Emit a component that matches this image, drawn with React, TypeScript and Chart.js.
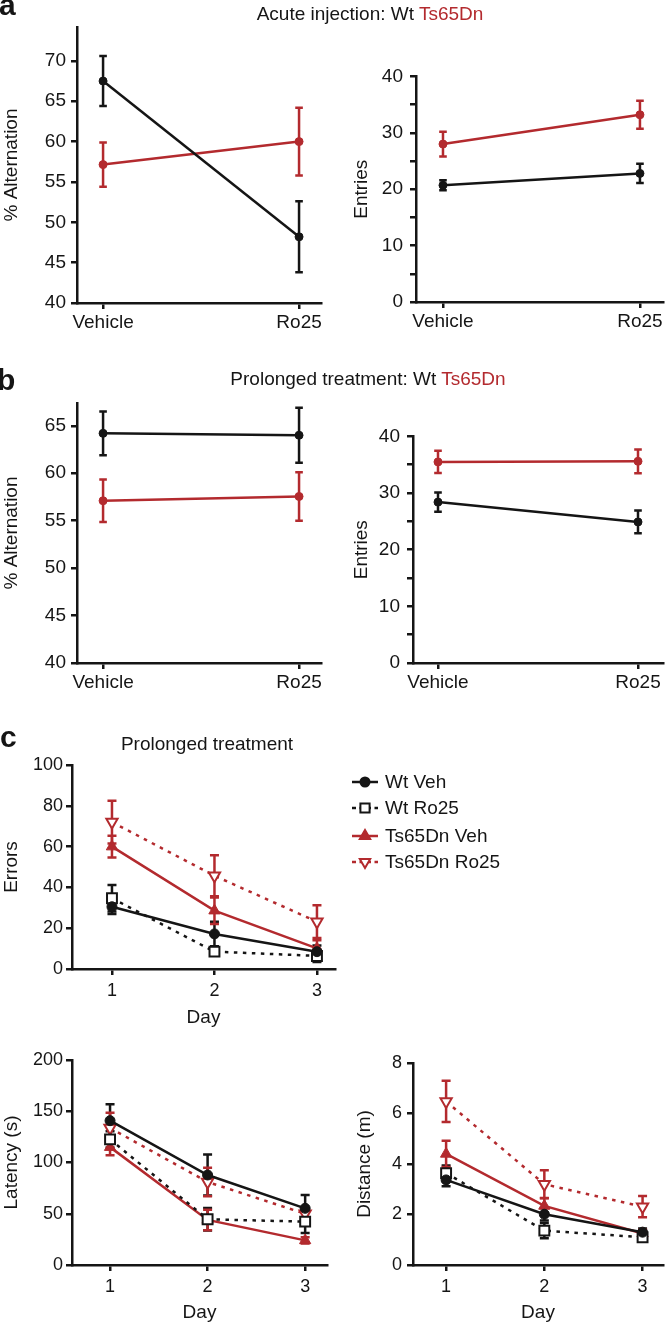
import React, { useEffect, useRef } from 'react';
import { Chart, registerables } from 'chart.js';

Chart.register(...registerables);

const FONT = '"Liberation Sans", Arial, Helvetica, sans-serif';
const INK = '#151515';
const RED = '#b32a2e';

// ---------- data ----------
const treatments = ['Vehicle', 'Ro25'];
const treatmentX = [0, 1];
const days = [1, 2, 3];
const dayLabels = ['1', '2', '3'];

// a: acute injection
const acuteAltWt = [67.5, 48.2];
const acuteAltWtErr = [3.1, 4.4];
const acuteAltTs = [57.15, 60.0];
const acuteAltTsErr = [2.75, 4.2];
const acuteEntWt = [20.7, 22.8];
const acuteEntWtErr = [0.9, 1.7];
const acuteEntTs = [28.0, 33.2];
const acuteEntTsErr = [2.2, 2.5];

// b: prolonged treatment
const prolAltWt = [64.2, 64.0];
const prolAltWtErr = [2.3, 2.9];
const prolAltTs = [57.1, 57.55];
const prolAltTsErr = [2.25, 2.55];
const prolEntWt = [28.4, 24.9];
const prolEntWtErr = [1.7, 2.0];
const prolEntTs = [35.5, 35.6];
const prolEntTsErr = [1.95, 2.1];

// c: prolonged treatment, water maze
const errWtVeh = [30.5, 17.2, 8.5];
const errWtVehErr = [3.5, 6, 3];
const errWtRo = [34.7, 8.5, 6.4];
const errWtRoErr = [6.5, 2, 3];
const errTsVeh = [60, 28.6, 10.1];
const errTsVehErr = [5.3, 6.5, 4];
const errTsRo = [72, 45.7, 23.2];
const errTsRoErr = [10.5, 10, 8];

const latWtVeh = [140.8, 87.8, 55.3];
const latWtVehErr = [16, 20, 13];
const latWtRo = [122.6, 44.6, 42.3];
const latWtRoErr = [8, 11, 11];
const latTsVeh = [115, 44, 24];
const latTsVehErr = [8, 10, 3];
const latTsRo = [133.6, 81, 50];
const latTsRoErr = [15, 14, 5];

const distWtVeh = [3.37, 2.01, 1.3];
const distWtVehErr = [0.25, 0.25, 0.15];
const distWtRo = [3.64, 1.36, 1.1];
const distWtRoErr = [0.3, 0.3, 0.15];
const distTsVeh = [4.4, 2.34, 1.25];
const distTsVehErr = [0.52, 0.3, 0.15];
const distTsRo = [6.48, 3.2, 2.31];
const distTsRoErr = [0.82, 0.55, 0.42];

const altTicksA = [40, 45, 50, 55, 60, 65, 70];
const altTicksB = [40, 45, 50, 55, 60, 65];
const entTicks = [0, 5, 10, 15, 20, 25, 30, 35, 40];
const errTicks = [0, 20, 40, 60, 80, 100];
const latTicks = [0, 50, 100, 150, 200];
const distTicks = [0, 2, 4, 6, 8];

const legendLabels = ['Wt Veh', 'Wt Ro25', 'Ts65Dn Veh', 'Ts65Dn Ro25'];

// ---------- series styles ----------
const wtAB = (values, errors) => ({ label: 'Wt', values, errors, color: INK, point: 'circle', radius: 4, open: false, dashed: false });
const tsAB = (values, errors) => ({ label: 'Ts65Dn', values, errors, color: RED, point: 'circle', radius: 4, open: false, dashed: false });

const styleWtVeh = { color: INK, point: 'circle', radius: 5, open: false, dashed: false };
const styleWtRo = { color: INK, point: 'rect', radius: 7, open: true, dashed: true };
const styleTsVeh = { color: RED, point: 'triangle', radius: 6.5, open: false, dashed: false };
const styleTsRo = { color: RED, point: 'triangleDown', radius: 6.5, open: true, dashed: true };
const cStyles = [styleWtVeh, styleWtRo, styleTsVeh, styleTsRo];

const cSeries = (vals, errs) =>
  cStyles.map((st, i) => ({ ...st, label: legendLabels[i], values: vals[i], errors: errs[i] }));

// ---------- plugins ----------
function makeErrorBars(series, cap) {
  return {
    id: 'errorBars',
    beforeDatasetsDraw(chart) {
      const ctx = chart.ctx;
      const xs = chart.scales.x;
      const ys = chart.scales.y;
      series.forEach((s, si) => {
        const meta = chart.getDatasetMeta(si);
        ctx.save();
        ctx.strokeStyle = s.color;
        ctx.lineWidth = 2.5;
        ctx.setLineDash([]);
        meta.data.forEach((pt, j) => {
          const v = s.values[j];
          const e = s.errors[j];
          const px = xs.getPixelForValue(chart.data.datasets[si].data[j].x);
          const top = ys.getPixelForValue(v + e);
          const bot = ys.getPixelForValue(v - e);
          ctx.beginPath();
          ctx.moveTo(px, top);
          ctx.lineTo(px, bot);
          ctx.moveTo(px - cap, top);
          ctx.lineTo(px + cap, top);
          ctx.moveTo(px - cap, bot);
          ctx.lineTo(px + cap, bot);
          ctx.stroke();
        });
        ctx.restore();
      });
    },
  };
}

function drawMarker(ctx, style, x, y, r, color, open) {
  ctx.save();
  ctx.setLineDash([]);
  ctx.fillStyle = open ? '#ffffff' : color;
  ctx.strokeStyle = color;
  ctx.lineWidth = 2;
  ctx.beginPath();
  if (style === 'circle') {
    ctx.arc(x, y, r, 0, Math.PI * 2);
  } else if (style === 'rect') {
    const h = r * Math.SQRT1_2;
    ctx.rect(x - h, y - h, 2 * h, 2 * h);
  } else {
    const dir = style === 'triangleDown' ? -1 : 1;
    ctx.moveTo(x, y - dir * r);
    ctx.lineTo(x + r * 0.866, y + dir * r * 0.5);
    ctx.lineTo(x - r * 0.866, y + dir * r * 0.5);
    ctx.closePath();
  }
  ctx.fill();
  ctx.stroke();
  ctx.restore();
}

function makeLegend(cx, cy) {
  const rows = [782, 808, 836, 862];
  return {
    id: 'customLegend',
    afterDraw(chart) {
      const ctx = chart.ctx;
      cStyles.forEach((st, i) => {
        const y = rows[i] - cy;
        const x1 = 352 - cx;
        const x2 = 378 - cx;
        const xm = 365 - cx;
        ctx.save();
        ctx.strokeStyle = st.color;
        ctx.lineWidth = 2.5;
        ctx.setLineDash(st.dashed ? [4, 3.5] : []);
        ctx.beginPath();
        ctx.moveTo(x1, y);
        ctx.lineTo(x2, y);
        ctx.stroke();
        ctx.restore();
        drawMarker(ctx, st.point, xm, y, st.point === 'rect' ? 6.5 : st.point === 'circle' ? 4.5 : 6, st.color, st.open);
        ctx.save();
        ctx.fillStyle = INK;
        ctx.font = `19px ${FONT}`;
        ctx.textBaseline = 'middle';
        ctx.textAlign = 'left';
        ctx.fillText(legendLabels[i], 385 - cx, y + 1);
        ctx.restore();
      });
    },
  };
}

// ---------- panel specs ----------
const panels = [
  {
    key: 'aL', cx: 0, cy: 10, cw: 336, ch: 340, L: 77, T: 27, R: 321, B: 303,
    xs: treatmentX, xLabels: treatments, xMin: -0.133, xMax: 1.112,
    yMin: 40, yMax: 74.2, yTicks: altTicksA, yLabelStep: 5,
    yTitle: '% Alternation', yTitleX: 12, yPad: 5, xPad: 2, tickFont: 19, cap: 3.8,
    series: [wtAB(acuteAltWt, acuteAltWtErr), tsAB(acuteAltTs, acuteAltTsErr)],
  },
  {
    key: 'aR', cx: 336, cy: 58, cw: 336, ch: 292, L: 416, T: 75, R: 663, B: 302,
    xs: treatmentX, xLabels: treatments, xMin: -0.137, xMax: 1.117,
    yMin: 0, yMax: 40, yTicks: entTicks, yLabelStep: 10,
    yTitle: 'Entries', yTitleX: 362, yPad: 7, xPad: 2, tickFont: 19, cap: 3.8,
    series: [wtAB(acuteEntWt, acuteEntWtErr), tsAB(acuteEntTs, acuteEntTsErr)],
  },
  {
    key: 'bL', cx: 0, cy: 385, cw: 336, ch: 330, L: 77, T: 403, R: 321, B: 663,
    xs: treatmentX, xLabels: treatments, xMin: -0.133, xMax: 1.112,
    yMin: 40, yMax: 67.4, yTicks: altTicksB, yLabelStep: 5,
    yTitle: '% Alternation', yTitleX: 12, yPad: 5, xPad: 2, tickFont: 19, cap: 3.8,
    series: [wtAB(prolAltWt, prolAltWtErr), tsAB(prolAltTs, prolAltTsErr)],
  },
  {
    key: 'bR', cx: 336, cy: 418, cw: 336, ch: 297, L: 413, T: 436, R: 663, B: 663,
    xs: treatmentX, xLabels: treatments, xMin: -0.125, xMax: 1.125,
    yMin: 0, yMax: 40, yTicks: entTicks, yLabelStep: 10,
    yTitle: 'Entries', yTitleX: 362, yPad: 7, xPad: 2, tickFont: 19, cap: 3.8,
    series: [wtAB(prolEntWt, prolEntWtErr), tsAB(prolEntTs, prolEntTsErr)],
  },
  {
    key: 'cE', cx: 0, cy: 748, cw: 672, ch: 282, L: 72, T: 765, R: 335, B: 969,
    xs: days, xLabels: dayLabels, xMin: 0.61, xMax: 3.176,
    yMin: 0, yMax: 100, yTicks: errTicks, yLabelStep: 0,
    yTitle: 'Errors', yTitleX: 12, yPad: 3, xPad: 5, tickFont: 18, cap: 4.5,
    xTitle: 'Day', xTitlePad: 0.6, legend: true,
    series: cSeries([errWtVeh, errWtRo, errTsVeh, errTsRo], [errWtVehErr, errWtRoErr, errTsVehErr, errTsRoErr]),
  },
  {
    key: 'cL', cx: 0, cy: 1043, cw: 336, ch: 282, L: 72, T: 1060, R: 340, B: 1265,
    xs: days, xLabels: dayLabels, xMin: 0.61, xMax: 3.224,
    yMin: 0, yMax: 200, yTicks: latTicks, yLabelStep: 0,
    yTitle: 'Latency (s)', yTitleX: 12, yPad: 3, xPad: 5, tickFont: 18, cap: 4.5,
    xTitle: 'Day', xTitlePad: 0.6,
    series: cSeries([latWtVeh, latWtRo, latTsVeh, latTsRo], [latWtVehErr, latWtRoErr, latTsVehErr, latTsRoErr]),
  },
  {
    key: 'cD', cx: 336, cy: 1046, cw: 336, ch: 279, L: 413, T: 1063, R: 670, B: 1265,
    xs: days, xLabels: dayLabels, xMin: 0.663, xMax: 3.208,
    yMin: 0, yMax: 8, yTicks: distTicks, yLabelStep: 0,
    yTitle: 'Distance (m)', yTitleX: 365, yPad: 5, xPad: 5, tickFont: 18, cap: 4.5,
    xTitle: 'Day', xTitlePad: 1,
    series: cSeries([distWtVeh, distWtRo, distTsVeh, distTsRo], [distWtVehErr, distWtRoErr, distTsVehErr, distTsRoErr]),
  },
];

function buildConfig(p) {
  const datasets = p.series.map((s) => ({
    label: s.label,
    data: p.xs.map((x, i) => ({ x, y: s.values[i] })),
    borderColor: s.color,
    backgroundColor: s.open ? '#ffffff' : s.color,
    pointBackgroundColor: s.open ? '#ffffff' : s.color,
    pointBorderColor: s.color,
    pointBorderWidth: s.open ? 2 : 1,
    pointRadius: s.radius,
    pointStyle: s.point === 'triangleDown' ? 'triangle' : s.point,
    pointRotation: s.point === 'triangleDown' ? 180 : 0,
    borderWidth: 2.5,
    borderDash: s.dashed ? [3.5, 5.5] : [],
    tension: 0,
    fill: false,
  }));

  const tickFont = { size: p.tickFont, family: FONT };
  const titleFont = { size: 19, family: FONT };

  const plugins = [makeErrorBars(p.series, p.cap)];
  if (p.legend) plugins.push(makeLegend(p.cx, p.cy));

  return {
    type: 'line',
    data: { datasets },
    options: {
      responsive: false,
      maintainAspectRatio: false,
      animation: false,
      devicePixelRatio: 1,
      events: [],
      layout: { padding: { left: 0, top: p.T - p.cy, right: p.cx + p.cw - p.R, bottom: 0 } },
      plugins: { legend: { display: false }, tooltip: { enabled: false }, title: { display: false } },
      scales: {
        x: {
          type: 'linear',
          min: p.xMin,
          max: p.xMax,
          afterBuildTicks: (s) => { s.ticks = p.xs.map((v) => ({ value: v })); },
          afterFit: (s) => { s.height = p.cy + p.ch - p.B; },
          ticks: {
            callback: (v, i) => p.xLabels[i] ?? '',
            font: tickFont,
            color: INK,
            padding: p.xPad,
            maxRotation: 0,
            autoSkip: false,
          },
          grid: { drawOnChartArea: false, drawTicks: true, tickLength: 6, color: INK, lineWidth: 2.5 },
          border: { display: true, color: INK, width: 2.5 },
          title: p.xTitle
            ? { display: true, text: p.xTitle, font: titleFont, color: INK, padding: { top: 0, bottom: p.xTitlePad } }
            : { display: false },
        },
        y: {
          type: 'linear',
          min: p.yMin,
          max: p.yMax,
          afterBuildTicks: (s) => { s.ticks = p.yTicks.map((v) => ({ value: v })); },
          afterFit: (s) => { s.width = p.L - p.cx; },
          ticks: {
            callback: (v) => (p.yLabelStep && v % p.yLabelStep !== 0 ? '' : String(v)),
            font: tickFont,
            color: INK,
            padding: p.yPad,
            autoSkip: false,
          },
          grid: { drawOnChartArea: false, drawTicks: true, tickLength: 6, color: INK, lineWidth: 2.5 },
          border: { display: true, color: INK, width: 2.5 },
          title: {
            display: true,
            text: p.yTitle,
            font: titleFont,
            color: INK,
            padding: { top: p.yTitleX - p.cx - 11.4, bottom: 0 },
          },
        },
      },
    },
    plugins,
  };
}

function Panel({ spec }) {
  const ref = useRef(null);
  useEffect(() => {
    if (!ref.current) return;
    const chart = new Chart(ref.current, buildConfig(spec) as any);
    return () => chart.destroy();
  }, [spec]);
  return (
    <canvas
      ref={ref}
      width={spec.cw}
      height={spec.ch}
      style={{ position: 'absolute', left: spec.cx, top: spec.cy, width: spec.cw, height: spec.ch }}
    />
  );
}

const letterStyle = (left, top) => ({
  position: 'absolute' as const,
  left,
  top,
  fontSize: 30,
  lineHeight: '30px',
  fontWeight: 700,
  color: INK,
});

const titleStyle = (center, top) => ({
  position: 'absolute' as const,
  left: center,
  top,
  transform: 'translateX(-50%)',
  whiteSpace: 'nowrap' as const,
  fontSize: 19,
  lineHeight: '19px',
  color: INK,
});

export default function App() {
  return (
    <div
      style={{
        position: 'absolute',
        left: 0,
        top: 0,
        width: 672,
        height: 1325,
        background: '#ffffff',
        fontFamily: FONT,
        overflow: 'hidden',
      }}
    >
      {panels.map((p) => (
        <Panel key={p.key} spec={p} />
      ))}
      <div style={letterStyle(-1, -10)}>a</div>
      <div style={letterStyle(-3, 365)}>b</div>
      <div style={letterStyle(0, 722)}>c</div>
      <div style={titleStyle(370, 4)}>
        Acute injection: Wt <span style={{ color: RED }}>Ts65Dn</span>
      </div>
      <div style={titleStyle(368, 369)}>
        Prolonged treatment: Wt <span style={{ color: RED }}>Ts65Dn</span>
      </div>
      <div style={titleStyle(207, 734)}>Prolonged treatment</div>
    </div>
  );
}
